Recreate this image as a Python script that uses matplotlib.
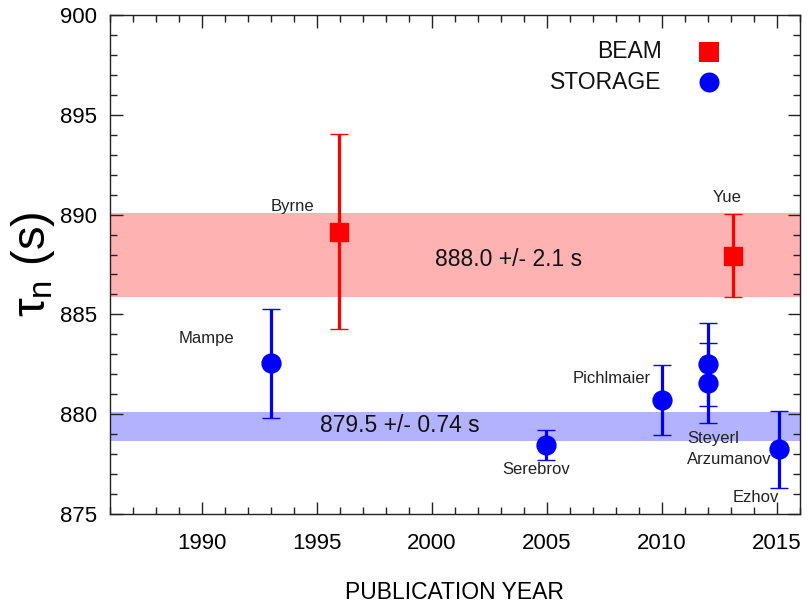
import matplotlib
matplotlib.use("Agg")
from matplotlib import pyplot as plt
from matplotlib.ticker import MultipleLocator

plt.rcParams["font.family"] = ["Liberation Sans", "DejaVu Sans"]
plt.rcParams["mathtext.fontset"] = "custom"
plt.rcParams["mathtext.rm"] = "Liberation Sans"
plt.rcParams["mathtext.it"] = "Liberation Sans"

# beam experiments
beam_names = ["Byrne", "Yue"]
beam_years = [1995.95, 2013.1]
beam_tau = [889.15, 887.95]
beam_err = [4.9, 2.1]

# storage experiments
storage_names = ["Mampe", "Serebrov", "Pichlmaier", "Steyerl", "Arzumanov", "Ezhov"]
storage_years = [1993.0, 2004.95, 2010.0, 2012.0, 2012.0, 2015.1]
storage_tau = [882.55, 878.45, 880.7, 882.5, 881.55, 878.25]
storage_err = [2.72, 0.76, 1.75, 2.07, 2.0, 1.93]

# averages (band center, half width)
beam_avg = (887.97, 2.1)
storage_avg = (879.39, 0.74)
beam_avg_label = "888.0 +/- 2.1 s"
storage_avg_label = "879.5 +/- 0.74 s"

# label positions (data coords)
beam_label_pos = [(1993.95, 890.4), (2012.85, 890.85)]
storage_label_pos = [(1990.2, 883.8), (2004.55, 877.2), (2007.8, 881.8),
                     (2012.25, 878.8), (2012.95, 877.75), (2014.1, 875.8)]

fig = plt.figure(figsize=(8.08, 6.06), dpi=100)
ax = fig.add_axes([0.136, 0.152, 0.854, 0.823])

#average bands
ax.axhspan(beam_avg[0] - beam_avg[1], beam_avg[0] + beam_avg[1], color="red", alpha=0.3, lw=0, zorder=1)
ax.axhspan(storage_avg[0] - storage_avg[1], storage_avg[0] + storage_avg[1], color="blue", alpha=0.3, lw=0, zorder=1)
ax.text(2003.35, 887.75, beam_avg_label, fontsize=16.5, ha="center", va="center", color="#111111", zorder=3)
ax.text(1998.6, 879.42, storage_avg_label, fontsize=16.5, ha="center", va="center", color="#111111", zorder=3)

ax.errorbar(beam_years, beam_tau, beam_err, fmt="s", color="red", ms=13.0, mew=1,
            elinewidth=2.3, capsize=6.5, capthick=2.3, zorder=4)
ax.errorbar(storage_years, storage_tau, storage_err, fmt="o", color="blue", ms=13.6, mew=1,
            elinewidth=2.3, capsize=6.5, capthick=2.3, zorder=4)

for name, (x, y) in zip(beam_names, beam_label_pos):
    ax.text(x, y, name, fontsize=12, ha="center", va="center", color="#222222", zorder=5)
for name, (x, y) in zip(storage_names, storage_label_pos):
    ax.text(x, y, name, fontsize=12, ha="center", va="center", color="#222222", zorder=5)

#legend drawn by hand, text then marker
ax.text(0.8, 0.927, "BEAM", fontsize=16.5, ha="right", va="center", transform=ax.transAxes, color="#111111")
ax.text(0.8, 0.865, "STORAGE", fontsize=16.5, ha="right", va="center", transform=ax.transAxes, color="#111111")
ax.plot([0.868], [0.927], "s", color="red", ms=13.8, mew=0, transform=ax.transAxes, clip_on=False)
ax.plot([0.868], [0.865], "o", color="blue", ms=14.4, mew=0, transform=ax.transAxes, clip_on=False)

ax.set_xlim(1986, 2016)
ax.set_ylim(875, 900)
ax.xaxis.set_major_locator(MultipleLocator(5))
ax.xaxis.set_minor_locator(MultipleLocator(1))
ax.yaxis.set_major_locator(MultipleLocator(5))
ax.yaxis.set_minor_locator(MultipleLocator(1))
ax.tick_params(which="both", direction="in", top=True, right=True, width=1, color="#222222")
ax.tick_params(which="major", length=9, labelsize=16, pad=9)
ax.tick_params(which="minor", length=5)
ax.tick_params(axis="x", which="major", pad=14)
ax.set_xticks([1990, 1995, 2000, 2005, 2010, 2015])
for s in ax.spines.values():
    s.set_linewidth(1.0)
    s.set_color("#222222")

ax.set_xlabel("PUBLICATION YEAR", fontsize=16.5, labelpad=19)
ax.set_ylabel("$τ_n$ (s)", fontsize=34)
ax.yaxis.set_label_coords(-0.077, 0.5)

plt.savefig("out.png")
